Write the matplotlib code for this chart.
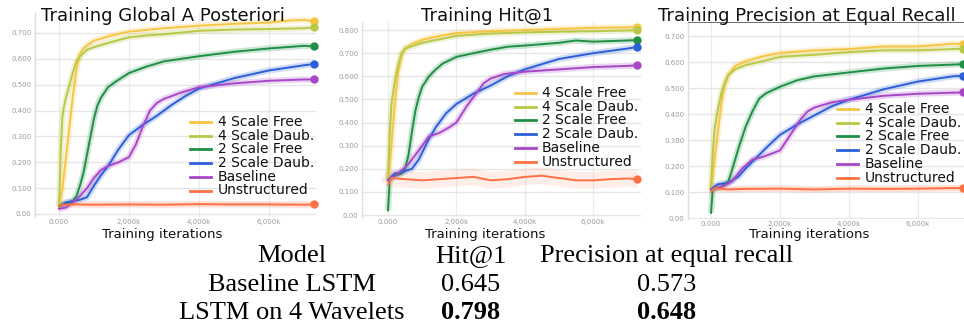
import matplotlib
matplotlib.use("Agg")
import matplotlib.pyplot as plt
from matplotlib.ticker import FixedLocator, FuncFormatter
from matplotlib.lines import Line2D

# ---------------- data (x in thousands of training iterations) ----------------
series_names = ["4 Scale Free", "4 Scale Daub.", "2 Scale Free", "2 Scale Daub.", "Baseline", "Unstructured"]
series_colors = ["#f7c544", "#b9c847", "#1f8f46", "#2c5fd8", "#a847c9", "#ff7043"]

# Panel 1: Training Global A Posteriori
gap_4free = [(0, 0.03), (100, 0.10), (200, 0.22), (300, 0.34), (400, 0.46), (500, 0.56), (600, 0.62),
             (700, 0.64), (800, 0.652), (1000, 0.67), (1500, 0.69), (2000, 0.705), (3000, 0.718),
             (4000, 0.728), (5000, 0.735), (6000, 0.74), (6600, 0.748), (7000, 0.75), (7300, 0.745)]
gap_4daub = [(0, 0.03), (50, 0.25), (100, 0.38), (150, 0.42), (200, 0.45), (300, 0.50), (400, 0.55),
             (500, 0.59), (600, 0.61), (800, 0.635), (1000, 0.645), (1500, 0.665), (2000, 0.683),
             (2500, 0.69), (3000, 0.695), (4000, 0.708), (5000, 0.713), (6000, 0.715), (7000, 0.718),
             (7300, 0.722)]
gap_2free = [(0, 0.03), (200, 0.04), (400, 0.05), (500, 0.07), (600, 0.11), (700, 0.16), (800, 0.23),
             (900, 0.30), (1000, 0.37), (1100, 0.42), (1200, 0.45), (1400, 0.49), (1600, 0.51),
             (2000, 0.545), (2500, 0.57), (3000, 0.59), (3500, 0.60), (4000, 0.61), (5000, 0.627),
             (6000, 0.64), (7000, 0.65), (7300, 0.648)]
gap_2daub = [(0, 0.03), (200, 0.045), (400, 0.05), (600, 0.055), (800, 0.065), (1000, 0.11), (1200, 0.15),
             (1400, 0.185), (1700, 0.25), (2000, 0.305), (2400, 0.345), (2800, 0.38), (3200, 0.42),
             (3600, 0.455), (4000, 0.485), (4500, 0.505), (5000, 0.525), (6000, 0.555), (7000, 0.575),
             (7300, 0.58)]
gap_base = [(0, 0.02), (200, 0.025), (400, 0.045), (600, 0.07), (800, 0.10), (1000, 0.14), (1200, 0.17),
            (1400, 0.185), (1700, 0.20), (2000, 0.22), (2200, 0.27), (2400, 0.34), (2600, 0.40),
            (2800, 0.43), (3000, 0.445), (3500, 0.47), (4000, 0.49), (5000, 0.505), (6000, 0.515),
            (7000, 0.52), (7300, 0.52)]
gap_unstr = [(0, 0.03), (100, 0.036), (500, 0.037), (1000, 0.036), (2000, 0.037), (3000, 0.036),
             (4000, 0.038), (5000, 0.037), (6000, 0.037), (7000, 0.036), (7300, 0.037)]

# Panel 2: Training Hit@1
hit_4free = [(0, 0.15), (100, 0.30), (200, 0.48), (300, 0.62), (400, 0.69), (500, 0.72), (700, 0.74),
             (1000, 0.758), (1500, 0.775), (2000, 0.787), (3000, 0.795), (4000, 0.80), (5000, 0.805),
             (6000, 0.81), (7000, 0.812), (7300, 0.813)]
hit_4daub = [(0, 0.15), (50, 0.35), (100, 0.48), (200, 0.58), (300, 0.65), (400, 0.70), (500, 0.72),
             (700, 0.73), (1000, 0.745), (1500, 0.76), (2000, 0.775), (3000, 0.785), (4000, 0.79),
             (5000, 0.793), (6000, 0.795), (7000, 0.798), (7300, 0.80)]
hit_2free = [(0, 0.02), (50, 0.15), (200, 0.17), (400, 0.18), (500, 0.20), (600, 0.26), (700, 0.36),
             (800, 0.45), (900, 0.51), (1000, 0.555), (1200, 0.60), (1400, 0.63), (1600, 0.655),
             (2000, 0.684), (2500, 0.70), (3000, 0.715), (3500, 0.728), (4000, 0.733), (5000, 0.745),
             (5500, 0.755), (6000, 0.75), (7000, 0.755), (7300, 0.757)]
hit_2daub = [(0, 0.15), (200, 0.18), (300, 0.18), (500, 0.19), (700, 0.20), (800, 0.22), (900, 0.24),
             (1000, 0.27), (1200, 0.33), (1400, 0.38), (1700, 0.44), (2000, 0.48), (2500, 0.525),
             (3000, 0.56), (3500, 0.60), (4000, 0.63), (5000, 0.675), (6000, 0.70), (7000, 0.72),
             (7300, 0.727)]
hit_base = [(0, 0.15), (300, 0.18), (600, 0.22), (900, 0.28), (1200, 0.34), (1500, 0.355), (1800, 0.38),
            (2000, 0.40), (2300, 0.47), (2600, 0.53), (2800, 0.57), (3000, 0.59), (3400, 0.61),
            (4000, 0.62), (5000, 0.63), (6000, 0.64), (7000, 0.645), (7300, 0.648)]
hit_unstr = [(0, 0.13), (100, 0.16), (500, 0.155), (1000, 0.15), (1500, 0.155), (2000, 0.16),
             (2500, 0.165), (3000, 0.15), (3500, 0.155), (4000, 0.165), (4500, 0.17), (5000, 0.16),
             (5500, 0.15), (6000, 0.15), (6500, 0.155), (7000, 0.158), (7300, 0.155)]

# Panel 3: Training Precision at Equal Recall
prec_4free = [(0, 0.11), (100, 0.22), (200, 0.33), (300, 0.44), (400, 0.51), (500, 0.55), (700, 0.585),
              (1000, 0.603), (1500, 0.622), (2000, 0.635), (3000, 0.645), (4000, 0.65), (5000, 0.66),
              (6000, 0.66), (7000, 0.67), (7300, 0.67)]
prec_4daub = [(0, 0.11), (50, 0.25), (100, 0.34), (200, 0.42), (300, 0.48), (400, 0.52), (500, 0.55),
              (700, 0.572), (1000, 0.588), (1500, 0.603), (2000, 0.62), (3000, 0.628), (4000, 0.638),
              (5000, 0.645), (6000, 0.645), (7000, 0.65), (7300, 0.652)]
prec_2free = [(0, 0.02), (50, 0.11), (300, 0.12), (500, 0.14), (600, 0.18), (800, 0.27), (1000, 0.35),
              (1200, 0.41), (1400, 0.46), (1600, 0.48), (2000, 0.505), (2500, 0.53), (3000, 0.545),
              (4000, 0.56), (5000, 0.575), (6000, 0.585), (7000, 0.59), (7300, 0.592)]
prec_2daub = [(0, 0.11), (200, 0.13), (500, 0.135), (800, 0.16), (1000, 0.19), (1300, 0.23), (1600, 0.27),
              (2000, 0.32), (2500, 0.36), (3000, 0.395), (3500, 0.43), (4000, 0.455), (5000, 0.495),
              (6000, 0.525), (7000, 0.545), (7300, 0.547)]
prec_base = [(0, 0.11), (300, 0.12), (600, 0.14), (900, 0.19), (1200, 0.225), (1500, 0.235), (1800, 0.25),
             (2000, 0.26), (2300, 0.32), (2600, 0.38), (2800, 0.41), (3000, 0.425), (3500, 0.445),
             (4000, 0.455), (5000, 0.47), (6000, 0.478), (7000, 0.482), (7300, 0.483)]
prec_unstr = [(0, 0.10), (100, 0.115), (500, 0.11), (1000, 0.112), (2000, 0.113), (3000, 0.11),
              (4000, 0.113), (5000, 0.112), (6000, 0.113), (7000, 0.115), (7300, 0.115)]

panel_titles = ["Training Global A Posteriori", "Training Hit@1", "Training Precision at Equal Recall"]
x_label = "Training iterations"
x_ticks = [0, 2000, 4000, 6000]
x_tick_labels = ["0.000", "2,000k", "4,000k", "6,000k"]

table_header = ["Model", "Hit@1", "Precision at equal recall"]
table_row1 = ["Baseline LSTM", "0.645", "0.573"]
table_row2 = ["LSTM on 4 Wavelets", "0.798", "0.648"]

# ---------------- layout (pixel based) ----------------
W, H = 964, 324
fig = plt.figure(figsize=(W / 100, H / 100), dpi=100)
fig.patch.set_facecolor("white")

panels = [
    dict(data=[gap_4free, gap_4daub, gap_2free, gap_2daub, gap_base, gap_unstr],
         box=(35, 316, 13, 217), xlim=(-686, 7343), ylim=(-0.0116, 0.777), yticks=7,
         leg=(190, 218, 122), title=(163, "center"), xl=162),
    dict(data=[hit_4free, hit_4daub, hit_2free, hit_2daub, hit_base, hit_unstr],
         box=(362, 641, 22, 217), xlim=(-761, 7404), ylim=(-0.0086, 0.835), yticks=8,
         leg=(515, 542, 93), title=(487, "center"), xl=485),
    dict(data=[prec_4free, prec_4daub, prec_2free, prec_2daub, prec_base, prec_unstr],
         box=(688, 968, 22, 219), xlim=(-667, 7449), ylim=(-0.0038, 0.754), yticks=7,
         leg=(837, 865, 109), title=(658, "left"), xl=809),
]


def yfmt(v, pos):
    if abs(v) < 1e-9:
        return "0.00"
    return "%.3f" % v


for pi, p in enumerate(panels):
    l, r, t, b = p["box"]
    ax = fig.add_axes([l / W, (H - b) / H, (r - l) / W, (b - t) / H])
    ax.set_xlim(*p["xlim"])
    ax.set_ylim(*p["ylim"])
    ax.set_facecolor("white")
    for s in ["top", "right", "bottom"]:
        ax.spines[s].set_visible(False)
    ax.spines["left"].set_color("#dddddd")
    ax.spines["left"].set_linewidth(1.0)
    if pi == 2:
        ax.spines["top"].set_visible(True)
        ax.spines["top"].set_color("#555555")
        ax.spines["top"].set_linewidth(0.6)
    ax.xaxis.set_major_locator(FixedLocator(x_ticks))
    ax.set_xticklabels(x_tick_labels)
    yt = [k / 10 for k in range(p["yticks"] + 1)]
    ax.yaxis.set_major_locator(FixedLocator(yt))
    ax.yaxis.set_major_formatter(FuncFormatter(yfmt))
    ax.tick_params(axis="y", length=0, labelsize=5, labelcolor="#9a9a9a", pad=2.5)
    ax.tick_params(axis="x", length=0, labelsize=5, labelcolor="#9a9a9a", pad=1.2)
    ax.grid(True, axis="y", color="#e6e6e6", lw=1.0)
    ax.grid(True, axis="x", color="#ececec", lw=0.9)
    ax.set_axisbelow(True)

    for si, (ser, col) in enumerate(zip(p["data"], series_colors)):
        xs = [q[0] for q in ser]
        ys = [q[1] for q in ser]
        haze_w = 12 if (pi == 1 and si == 5) else 4.5
        haze_a = 0.12 if (pi == 1 and si == 5) else 0.22
        ax.plot(xs, ys, color=col, lw=haze_w, alpha=haze_a, solid_capstyle="butt", zorder=2)
    for si, (ser, col) in enumerate(zip(p["data"], series_colors)):
        xs = [q[0] for q in ser]
        ys = [q[1] for q in ser]
        ax.plot(xs, ys, color=col, lw=1.4, zorder=3 + si * 0.1)
        ax.plot(xs[-1:], ys[-1:], "o", color=col, ms=5, zorder=4, clip_on=False)

    # legend (manual, clipped to axes)
    hx, tx, y0 = p["leg"]
    for k, (name, col) in enumerate(zip(series_names, series_colors)):
        yy = y0 + k * 13.7
        ay = (b - yy) / (b - t)
        ax.add_line(Line2D([(hx - l) / (r - l), (hx + 21 - l) / (r - l)], [ay, ay],
                           transform=ax.transAxes, color=col, lw=2.0, zorder=5))
        ax.text((tx - l) / (r - l), ay, name, transform=ax.transAxes, fontsize=10,
                va="center", ha="left", color="#111111", zorder=5, clip_on=True,
                family="DejaVu Sans")

    # title and x label
    tx0, tha = p["title"]
    fig.text(tx0 / W, (H - 21) / H, panel_titles[pi], fontsize=13, ha=tha, va="baseline",
             color="#111111", family="DejaVu Sans")
    fig.text(p["xl"] / W, (H - 238) / H, x_label, fontsize=9.5, ha="center", va="baseline",
             color="#111111", family="DejaVu Sans")

# ---------------- table ----------------
col_x = [292, 471, 667]
row_base = [262, 291, 319]
for j, txt in enumerate(table_header):
    fig.text(col_x[j] / W, (H - row_base[0]) / H, txt, fontsize=19, ha="center", va="baseline",
             family="Liberation Serif", color="black")
for j, txt in enumerate(table_row1):
    fig.text(col_x[j] / W, (H - row_base[1]) / H, txt, fontsize=19, ha="center", va="baseline",
             family="Liberation Serif", color="black")
for j, txt in enumerate(table_row2):
    fig.text(col_x[j] / W, (H - row_base[2]) / H, txt, fontsize=19, ha="center", va="baseline",
             family="Liberation Serif", color="black", weight="bold" if j > 0 else "normal")

fig.savefig("out.png", dpi=100, facecolor="white")
